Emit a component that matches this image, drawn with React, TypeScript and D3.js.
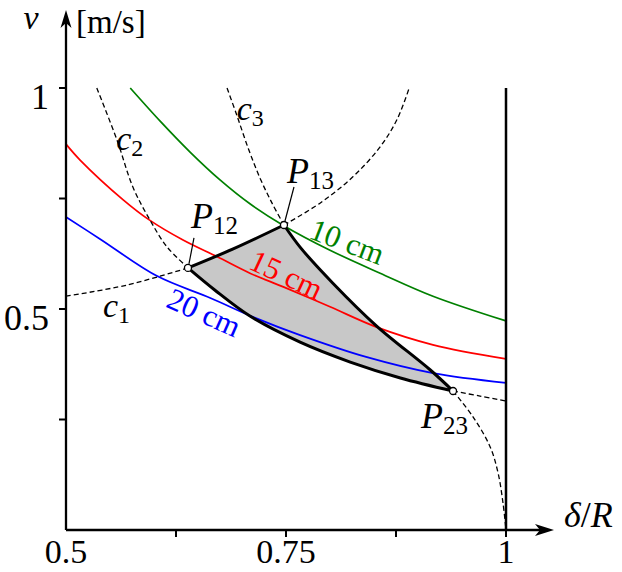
import React from 'react';
import * as d3 from 'd3';

// tick values and labels
const xTickValues = [0.625, 0.75, 0.875, 1];
const xLabelValues = [0.5, 0.75, 1];
const xTickLabels = ['0.5', '0.75', '1'];
const yTickValues = [0.25, 0.5, 0.75, 1];
const yLabelValues = [0.5, 1];
const yTickLabels = ['0.5', '1'];

// constant-length curves (delta/R, v)
const green10Delta = [0.573, 0.607, 0.641, 0.675, 0.709, 0.748, 0.8, 0.857, 0.917, 1.0];
const green10V = [1.0, 0.925, 0.855, 0.792, 0.738, 0.688, 0.633, 0.581, 0.529, 0.473];
const red15Delta = [0.5, 0.516, 0.565, 0.595, 0.633, 0.672, 0.709, 0.747, 0.8, 0.853, 0.917, 1.0];
const red15V = [0.873, 0.837, 0.747, 0.701, 0.656, 0.618, 0.581, 0.55, 0.505, 0.459, 0.419, 0.387];
const blue20Delta = [0.5, 0.539, 0.603, 0.664, 0.715, 0.766, 0.842, 0.917, 1.0];
const blue20V = [0.708, 0.658, 0.575, 0.525, 0.48, 0.441, 0.391, 0.355, 0.333];

// constraint curves c1, c2, c3, split at the corner points
const c1BeforeDelta = [0.5, 0.569, 0.6386];
const c1BeforeV = [0.529, 0.554, 0.593];
const c1EdgeDelta = [0.6386, 0.69, 0.7477];
const c1EdgeV = [0.593, 0.636, 0.69];
const c1AfterDelta = [0.7477, 0.789, 0.826, 0.857, 0.876, 0.89];
const c1AfterV = [0.69, 0.74, 0.799, 0.867, 0.928, 1.0];

const c2BeforeDelta = [0.535, 0.558, 0.576, 0.5955, 0.615, 0.6386];
const c2BeforeV = [1.0, 0.882, 0.776, 0.701, 0.64, 0.593];
const c2EdgeDelta = [0.6386, 0.669, 0.709, 0.766, 0.823, 0.88, 0.9398];
const c2EdgeV = [0.593, 0.543, 0.484, 0.425, 0.38, 0.344, 0.3145];
const c2AfterDelta = [0.9398, 0.9705, 1.0];
const c2AfterV = [0.3145, 0.303, 0.292];

const c3BeforeDelta = [0.683, 0.694, 0.707, 0.7205, 0.734, 0.7477];
const c3BeforeV = [1.0, 0.939, 0.864, 0.796, 0.74, 0.69];
const c3EdgeDelta = [0.7477, 0.766, 0.803, 0.853, 0.914, 0.9398];
const c3EdgeV = [0.69, 0.64, 0.559, 0.4615, 0.362, 0.3145];
const c3AfterDelta = [0.9398, 0.9625, 0.982, 0.991, 0.9966, 1.0];
const c3AfterV = [0.3145, 0.256, 0.188, 0.129, 0.061, 0.0];

// corner points
const pointNames = ['12', '13', '23'];
const pointDelta = [0.6386, 0.7477, 0.9398];
const pointV = [0.593, 0.69, 0.3145];

const W = 622;
const H = 572;
const FONT = '"Liberation Serif", "DejaVu Serif", serif';

const zip = (a: number[], b: number[]) => a.map((d, i) => [d, b[i]] as [number, number]);

const App = () => {
  const x = d3.scaleLinear().domain([0.5, 1]).range([66, 506]);
  const y = d3.scaleLinear().domain([0, 1]).range([530, 88]);

  const line = d3
    .line<[number, number]>()
    .x((d) => x(d[0]))
    .y((d) => y(d[1]))
    .curve(d3.curveCatmullRom.alpha(0.5));

  const cont = (pts: [number, number][]) => (line(pts) || '').replace(/^M/, 'L');

  const edge1 = zip(c1EdgeDelta, c1EdgeV);
  const edge3 = zip(c3EdgeDelta, c3EdgeV);
  const edge2 = zip(c2EdgeDelta, c2EdgeV).reverse();
  const region = (line(edge1) || '') + cont(edge3) + cont(edge2) + 'Z';

  const dashed = [
    zip(c1BeforeDelta, c1BeforeV),
    zip(c1AfterDelta, c1AfterV),
    zip(c2BeforeDelta, c2BeforeV),
    zip(c2AfterDelta, c2AfterV),
    zip(c3BeforeDelta, c3BeforeV),
    zip(c3AfterDelta, c3AfterV),
  ];

  const curves = [
    { pts: zip(green10Delta, green10V), color: '#008000' },
    { pts: zip(red15Delta, red15V), color: '#ff0000' },
    { pts: zip(blue20Delta, blue20V), color: '#0000ff' },
  ];

  // curve labels: anchor in data units, rotation, baseline offset
  const curveLabels = [
    { text: '10 cm', d: 0.814, v: 0.624, rot: 21, dy: -3, color: '#008000' },
    { text: '15 cm', d: 0.744, v: 0.55, rot: 25, dy: -3, color: '#ff0000' },
    { text: '20 cm', d: 0.664, v: 0.524, rot: 24, dy: 26, color: '#0000ff' },
  ];

  const cLabels = [
    { sub: '1', d: 0.542, v: 0.482 },
    { sub: '2', d: 0.557, v: 0.86 },
    { sub: '3', d: 0.694, v: 0.928 },
  ];

  // label offsets for P points (pixels relative to the point)
  const pOffsets = [
    { dx: 3, dy: -40, leader: [1, -4, 6, -30] },
    { dx: 3, dy: -42, leader: [1, -4, 10, -38] },
    { dx: -32, dy: 37, leader: null },
  ];

  const x0 = x(0.5);
  const y0 = y(0);

  return (
    <svg
      width={W}
      height={H}
      style={{ position: 'absolute', left: 0, top: 0, background: '#fff', fontFamily: FONT }}
    >
      {/* feasible region fill */}
      <path d={region} fill="#c8c8c8" stroke="none" />

      {/* constant-length curves */}
      {curves.map((c, i) => (
        <path key={i} d={line(c.pts) || ''} fill="none" stroke={c.color} strokeWidth={1.7} />
      ))}

      {/* dashed constraint curves */}
      {dashed.map((pts, i) => (
        <path key={i} d={line(pts) || ''} fill="none" stroke="#000" strokeWidth={1.3} strokeDasharray="5,3" />
      ))}

      {/* region border */}
      <path d={region} fill="none" stroke="#000" strokeWidth={3} strokeLinejoin="round" />

      {/* delta/R = 1 line */}
      <line x1={x(1)} x2={x(1)} y1={y(0)} y2={y(1)} stroke="#000" strokeWidth={2.5} />

      {/* axes */}
      <line x1={x0} x2={x0} y1={y0} y2={20} stroke="#000" strokeWidth={2.3} />
      <path d={`M${x0},10 L${x0 + 5.5},28 L${x0},23 L${x0 - 5.5},28 Z`} fill="#000" />
      <line x1={x0} x2={543} y1={y0} y2={y0} stroke="#000" strokeWidth={2.3} />
      <path d={`M554,${y0} L535,${y0 - 6} L540,${y0} L535,${y0 + 6} Z`} fill="#000" />

      {xTickValues.map((t) => (
        <line key={t} x1={x(t)} x2={x(t)} y1={y0} y2={y0 + 7} stroke="#000" strokeWidth={2} />
      ))}
      {yTickValues.map((t) => (
        <line key={t} x1={x0 - 7} x2={x0} y1={y(t)} y2={y(t)} stroke="#000" strokeWidth={2} />
      ))}
      {xLabelValues.map((t, i) => (
        <text key={t} x={x(t)} y={563} textAnchor="middle" fontSize={34}>
          {xTickLabels[i]}
        </text>
      ))}
      {yLabelValues.map((t, i) => (
        <text key={t} x={49} y={y(t) + 21} textAnchor="end" fontSize={36}>
          {yTickLabels[i]}
        </text>
      ))}

      {/* axis titles */}
      <text x={31} y={29} textAnchor="middle" fontSize={34} fontStyle="italic">
        v
      </text>
      <text x={76} y={33} fontSize={33}>
        [m/s]
      </text>
      <text x={564} y={527} fontSize={36}>
        <tspan fontStyle="italic">δ</tspan>/<tspan fontStyle="italic">R</tspan>
      </text>

      {/* curve labels */}
      {curveLabels.map((l) => (
        <g key={l.text} transform={`translate(${x(l.d)},${y(l.v)}) rotate(${l.rot})`}>
          <text x={0} y={l.dy} textAnchor="middle" fontSize={31} fill={l.color}>
            {l.text}
          </text>
        </g>
      ))}

      {cLabels.map((l) => (
        <text key={l.sub} x={x(l.d)} y={y(l.v)} fontSize={34} fontStyle="italic">
          c
          <tspan fontStyle="normal" fontSize={24} dy={6}>
            {l.sub}
          </tspan>
        </text>
      ))}

      {/* corner points */}
      {pointNames.map((n, i) => {
        const px = x(pointDelta[i]);
        const py = y(pointV[i]);
        const o = pOffsets[i];
        return (
          <g key={n}>
            {o.leader && (
              <line
                x1={px + o.leader[0]}
                y1={py + o.leader[1]}
                x2={px + o.leader[2]}
                y2={py + o.leader[3]}
                stroke="#000"
                strokeWidth={1.2}
              />
            )}
            <circle cx={px} cy={py} r={3.5} fill="#fff" stroke="#000" strokeWidth={1.3} />
            <text x={px + o.dx} y={py + o.dy} fontSize={36} fontStyle="italic">
              P
              <tspan fontStyle="normal" fontSize={25} dy={6}>
                {n}
              </tspan>
            </text>
          </g>
        );
      })}
    </svg>
  );
};

export default App;
